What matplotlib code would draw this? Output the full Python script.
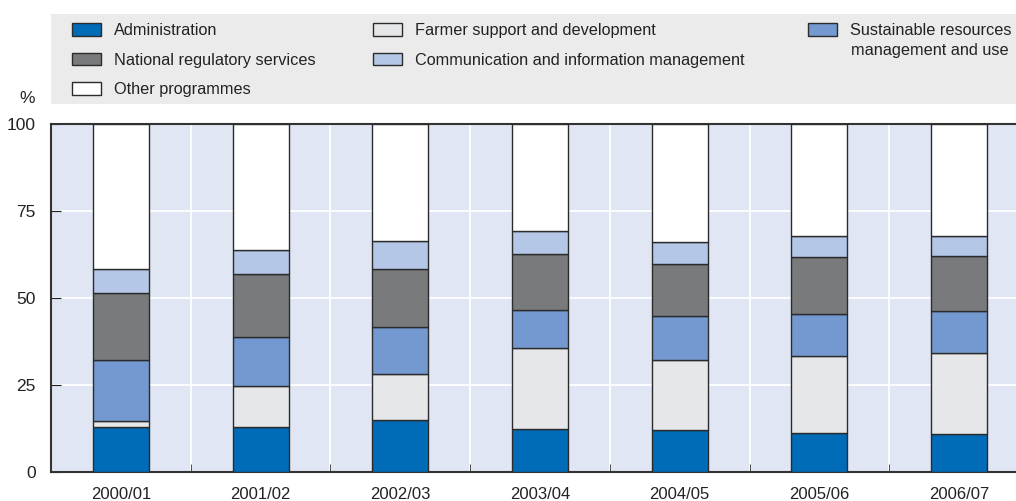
import numpy as np
import matplotlib
matplotlib.use('Agg')
import matplotlib.pyplot as plt
from matplotlib.patches import Patch, Rectangle

plt.rcParams['font.family'] = ['Liberation Sans Narrow', 'Liberation Sans', 'DejaVu Sans']

years = ['2000/01', '2001/02', '2002/03', '2003/04', '2004/05', '2005/06', '2006/07']
# shares in %, bottom to top
administration = [12.9, 12.9, 14.8, 12.3, 11.9, 11.1, 10.7]
farmer = [1.7, 11.7, 13.3, 23.1, 20.2, 22.1, 23.5]
sustainable = [17.5, 14.2, 13.4, 11.0, 12.6, 12.1, 12.0]
national = [19.1, 18.0, 16.6, 16.1, 14.9, 16.4, 15.8]
communication = [6.9, 6.9, 8.2, 6.6, 6.3, 5.9, 5.6]
other = [41.9, 36.3, 33.7, 30.9, 34.1, 32.4, 32.4]

series = [
    ('Administration', administration, '#006bb6'),
    ('Farmer support and development', farmer, '#e6e7e9'),
    ('Sustainable resources', sustainable, '#7399d0'),
    ('National regulatory services', national, '#797a7c'),
    ('Communication and information management', communication, '#b4c7e7'),
    ('Other programmes', other, '#ffffff'),
]

fig = plt.figure(figsize=(10.16, 5.01), dpi=100)
ax = fig.add_axes([51/1016, 29.3/501, 978/1016, 348.2/501])
ax.set_facecolor('#e0e6f4')

x = np.arange(len(years))
bottom = np.zeros(len(years))
handles = {}
for name, vals, col in series:
    ax.bar(x, vals, bottom=bottom, width=0.4, color=col, edgecolor='#2b2b2b',
           linewidth=1.0, zorder=3)
    bottom += np.array(vals)
    handles[name] = Patch(facecolor=col, edgecolor='#2b2b2b', linewidth=1.0)

ax.set_xlim(-0.5, len(years) - 0.5)
ax.set_ylim(0, 100)
ax.set_yticks([0, 25, 50, 75, 100])
ax.set_xticks(x)
ax.set_xticklabels(years)
ax.set_xticks(x[:-1] + 0.5, minor=True)
ax.tick_params(axis='x', which='major', length=0, labelsize=12, pad=11, colors='#222222')
ax.tick_params(axis='x', which='minor', length=6, direction='in', color='#333333')
ax.tick_params(axis='y', length=7, direction='in', labelsize=12.5, pad=11, colors='#222222')
ax.grid(True, axis='y', color='white', linewidth=1.3, zorder=1)
ax.grid(True, axis='x', which='minor', color='white', linewidth=1.3, zorder=1)
ax.set_axisbelow(True)
for s in ['left', 'bottom', 'top']:
    ax.spines[s].set_color('#333333')
    ax.spines[s].set_linewidth(1.5)
ax.spines['right'].set_visible(False)

fig.text(27/1016, 1 - 98/501, '%', fontsize=12.5, ha='center', va='center', color='#222222')

# legend panel
fig.patches.append(Rectangle((51/1016, 1 - 104/501), 1 - 51/1016, 90/501,
                             transform=fig.transFigure, facecolor='#ebebeb',
                             edgecolor='none', zorder=0))

def add_leg(names, xl):
    lg = fig.legend([handles[n] for n in names], names, loc='upper left',
                    bbox_to_anchor=(xl/1016, 1 - 23/501), frameon=False,
                    fontsize=11.7, handlelength=1.78, handleheight=0.8,
                    handletextpad=0.8, labelspacing=0.9, borderaxespad=0,
                    borderpad=0)
    for t in lg.get_texts():
        t.set_color('#222222')
    return lg

add_leg(['Administration', 'National regulatory services', 'Other programmes'], 72)
add_leg(['Farmer support and development', 'Communication and information management'], 373)
add_leg(['Sustainable resources'], 808)
fig.text(851/1016, 1 - 51/501, 'management and use', fontsize=11.7, ha='left',
         va='center', color='#222222')

fig.savefig('out.png', dpi=100)
